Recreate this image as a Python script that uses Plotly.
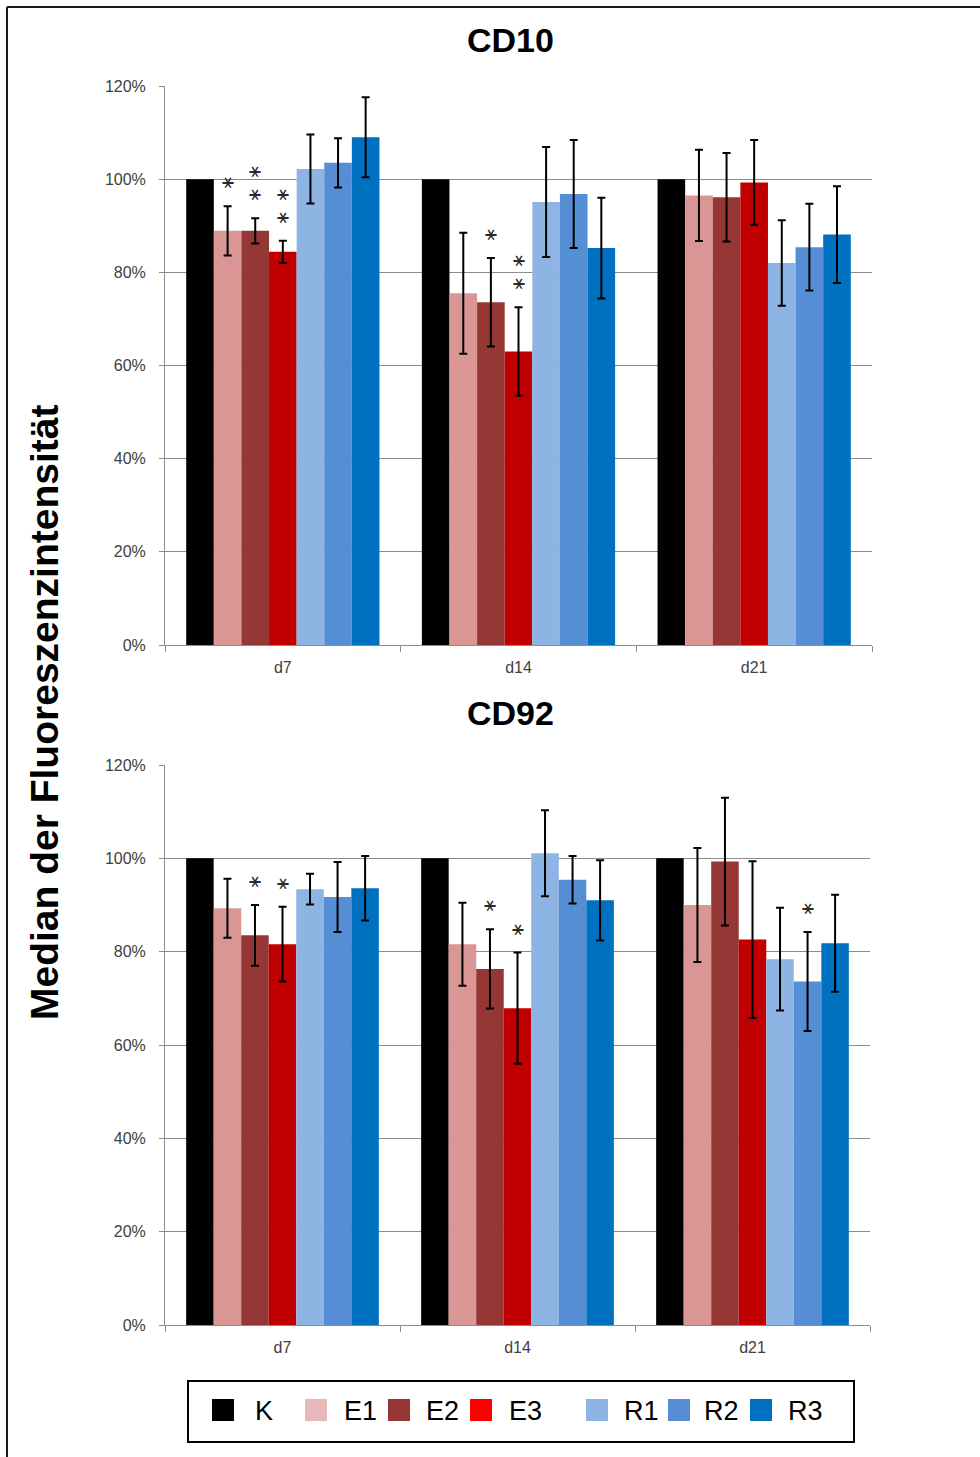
import plotly.graph_objects as go

W, H = 980, 1457

groups = ["d7", "d14", "d21"]
series = ["K", "E1", "E2", "E3", "R1", "R2", "R3"]
bar_colors = ["#000000", "#D99694", "#953735", "#C00000", "#8EB4E3", "#558ED5", "#0070C0"]
legend_colors = ["#000000", "#E6B9B8", "#953735", "#FF0000", "#8EB4E3", "#558ED5", "#0070C0"]

# CD10 (values in %, per series across d7, d14, d21)
cd10_K = [100, 100, 100]
cd10_E1 = [88.9, 75.5, 96.5]
cd10_E2 = [88.9, 73.6, 96.1]
cd10_E3 = [84.4, 63.0, 99.3]
cd10_R1 = [102.2, 95.1, 82.0]
cd10_R2 = [103.5, 96.8, 85.4]
cd10_R3 = [109.0, 85.2, 88.1]
cd10_E1_err = [5.3, 13.0, 9.8]
cd10_E2_err = [2.7, 9.5, 9.5]
cd10_E3_err = [2.4, 9.5, 9.1]
cd10_R1_err = [7.4, 11.8, 9.2]
cd10_R2_err = [5.3, 11.6, 9.3]
cd10_R3_err = [8.6, 10.8, 10.4]
# number of significance stars per group (rows) and series (cols)
cd10_stars = [[0, 1, 2, 2, 0, 0, 0],
              [0, 0, 1, 2, 0, 0, 0],
              [0, 0, 0, 0, 0, 0, 0]]

# CD92
cd92_K = [100, 100, 100]
cd92_E1 = [89.3, 81.6, 90.0]
cd92_E2 = [83.5, 76.3, 99.3]
cd92_E3 = [81.6, 67.9, 82.6]
cd92_R1 = [93.4, 101.1, 78.4]
cd92_R2 = [91.7, 95.4, 73.6]
cd92_R3 = [93.6, 91.0, 81.8]
cd92_E1_err = [6.3, 8.9, 12.2]
cd92_E2_err = [6.5, 8.5, 13.7]
cd92_E3_err = [8.0, 11.9, 16.8]
cd92_R1_err = [3.3, 9.2, 11.0]
cd92_R2_err = [7.5, 5.1, 10.6]
cd92_R3_err = [6.9, 8.6, 10.4]
cd92_stars = [[0, 0, 1, 1, 0, 0, 0],
              [0, 0, 1, 1, 0, 0, 0],
              [0, 0, 0, 0, 0, 1, 0]]

ytick_vals = [0, 20, 40, 60, 80, 100, 120]
ytick_text = ["0%", "20%", "40%", "60%", "80%", "100%", "120%"]

charts = [
    dict(title="CD10",
         vals=[cd10_K, cd10_E1, cd10_E2, cd10_E3, cd10_R1, cd10_R2, cd10_R3],
         errs=[None, cd10_E1_err, cd10_E2_err, cd10_E3_err, cd10_R1_err, cd10_R2_err, cd10_R3_err],
         stars=cd10_stars, box=(165, 872, 86, 645), title_y=40, ax=""),
    dict(title="CD92",
         vals=[cd92_K, cd92_E1, cd92_E2, cd92_E3, cd92_R1, cd92_R2, cd92_R3],
         errs=[None, cd92_E1_err, cd92_E2_err, cd92_E3_err, cd92_R1_err, cd92_R2_err, cd92_R3_err],
         stars=cd92_stars, box=(165, 870, 765, 1325), title_y=713, ax="2"),
]

BARGAP = 0.18
nser = len(series)
bw = (1 - BARGAP) / nser


def px(x):
    return x / W


def py(y):
    return 1 - y / H


fig = go.Figure()
annotations = []
shapes = []
layout_axes = {}

TICKFONT = dict(family="Liberation Sans, Arial, sans-serif", size=16, color="#404040")
GRID = "#8c8c8c"
STAR = "\u26b9"

for c in charts:
    ax = c["ax"]
    xa = "x" + ax
    ya = "y" + ax
    for si, s in enumerate(series):
        err = c["errs"][si]
        fig.add_trace(go.Bar(
            x=groups, y=c["vals"][si], name=s,
            marker=dict(color=bar_colors[si], line=dict(width=0)),
            error_y=dict(type="data", array=err if err else [0, 0, 0], visible=err is not None,
                         color="#000000", thickness=2, width=4),
            xaxis=xa, yaxis=ya, showlegend=False,
        ))
        # significance stars
        if err is not None:
            for gi in range(len(groups)):
                n = c["stars"][gi][si]
                for k in range(n):
                    annotations.append(dict(
                        x=gi + (si - (nser - 1) / 2) * bw,
                        y=c["vals"][si][gi] + err[gi],
                        xref=xa, yref=ya, text=STAR, showarrow=False,
                        yanchor="bottom", xanchor="center", borderpad=0,
                        yshift=12 + 23 * k,
                        font=dict(family="DejaVu Sans, sans-serif", size=20, color="#2a2a2a"),
                    ))
    x0, x1, y0, y1 = c["box"]
    layout_axes["xaxis" + ax] = dict(
        domain=[px(x0), px(x1)], anchor=ya, type="category", automargin=False,
        showline=True, linecolor=GRID, linewidth=1,
        ticks="outside", tickson="boundaries", ticklen=6, tickcolor=GRID,
        ticklabelstandoff=8,
        tickfont=TICKFONT, showgrid=False, fixedrange=True,
    )
    layout_axes["yaxis" + ax] = dict(
        domain=[py(y1), py(y0)], anchor=xa, range=[0, 120], automargin=False,
        tickmode="array", tickvals=ytick_vals, ticktext=ytick_text,
        showline=True, linecolor=GRID, linewidth=1,
        ticks="outside", ticklen=5, tickcolor=GRID,
        ticklabelstandoff=10,
        showgrid=True, gridcolor=GRID, gridwidth=1, zeroline=False,
        tickfont=TICKFONT, fixedrange=True,
    )
    annotations.append(dict(
        x=px(510), y=py(c["title_y"]), xref="paper", yref="paper",
        text="<b>%s</b>" % c["title"], showarrow=False,
        xanchor="center", yanchor="middle",
        font=dict(family="Liberation Sans, Arial, sans-serif", size=34, color="#000000"),
    ))

# y axis title
annotations.append(dict(
    x=px(45), y=py(713), xref="paper", yref="paper",
    text="<b>Median der Fluoreszenzintensität</b>", showarrow=False, textangle=-90,
    xanchor="center", yanchor="middle",
    font=dict(family="Liberation Sans, Arial, sans-serif", size=39, color="#000000"),
))

# outer frame
shapes.append(dict(type="line", xref="paper", yref="paper",
                   x0=px(7), x1=px(7), y0=py(7), y1=py(H + 40),
                   line=dict(color="#1a1a1a", width=2)))
shapes.append(dict(type="line", xref="paper", yref="paper",
                   x0=px(7), x1=px(W + 10), y0=py(7), y1=py(7),
                   line=dict(color="#1a1a1a", width=2)))

# legend box
shapes.append(dict(type="rect", xref="paper", yref="paper",
                   x0=px(188), x1=px(854), y0=py(1442), y1=py(1381),
                   line=dict(color="#000000", width=2), fillcolor="rgba(0,0,0,0)"))
leg_swatch_x = [212, 305, 388, 470, 586, 668, 750]
leg_text_x = [253, 342, 424, 507, 622, 702, 786]
for i, s in enumerate(series):
    sx = leg_swatch_x[i]
    shapes.append(dict(type="rect", xref="paper", yref="paper",
                       x0=px(sx), x1=px(sx + 22), y0=py(1421), y1=py(1399),
                       line=dict(width=0), fillcolor=legend_colors[i]))
    annotations.append(dict(
        x=px(leg_text_x[i]), y=py(1411), xref="paper", yref="paper",
        text=s, showarrow=False, xanchor="left", yanchor="middle",
        font=dict(family="Liberation Sans, Arial, sans-serif", size=27, color="#000000"),
    ))

fig.update_layout(
    width=W, height=H,
    margin=dict(l=0, r=0, t=0, b=0, autoexpand=False),
    paper_bgcolor="#ffffff", plot_bgcolor="#ffffff",
    barmode="group", bargap=BARGAP, bargroupgap=0,
    showlegend=False,
    annotations=annotations, shapes=shapes,
    **layout_axes,
)

fig.write_html("out.html")
